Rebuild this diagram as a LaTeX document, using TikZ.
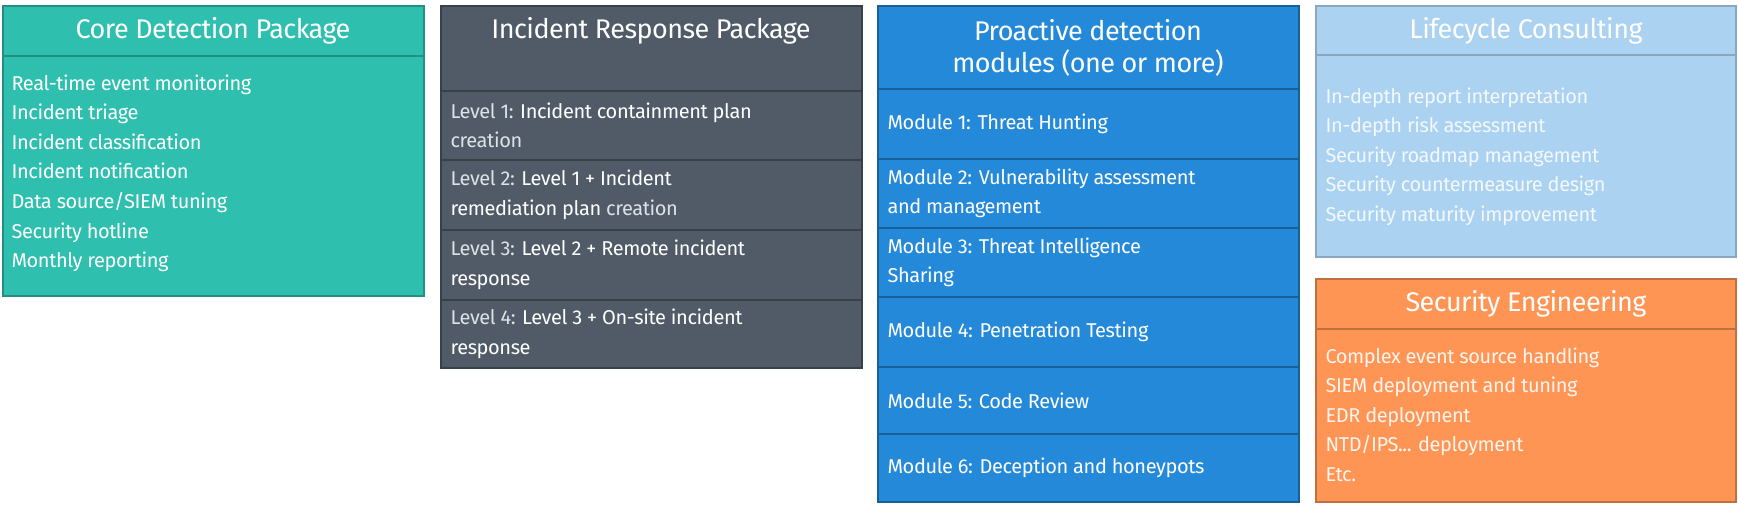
\documentclass[tikz,border=0pt]{standalone}
\usepackage{fontspec}
\setmainfont{Fira Sans}
\definecolor{cteal}{HTML}{2EBFAF}
\definecolor{cslate}{HTML}{505B67}
\definecolor{cblue}{HTML}{2489D8}
\definecolor{clight}{HTML}{ABD2F0}
\definecolor{corange}{HTML}{FE9555}
\begin{document}
\begin{tikzpicture}[x=1pt,y=-1pt,
  cell/.style={line width=1.5pt},
  ttl/.style={font=\fontsize{27}{32}\selectfont\addfontfeatures{LetterSpace=-2}, text=white, align=center},
  txt/.style={font=\fontsize{20}{29.6}\selectfont\addfontfeatures{LetterSpace=-2}, text=white, align=left, anchor=west},
  lt/.style={text opacity=0.8}]
\useasboundingbox (0,0) rectangle (1738,507);
% Box 1
\filldraw[cell,fill=cteal,draw=cteal!75!black] (3,6) rectangle (424,296);
\draw[cell,draw=cteal!75!black] (3,56) -- (424,56);
\node[ttl] (t1) at (213,31) {Core Detection Package};
\node[txt, anchor=north west] (b1) at (8,71) {Real-time event monitoring\\Incident triage\\Incident classification\\Incident notification\\Data source/SIEM tuning\\Security hotline\\Monthly reporting};
% Box 2
\filldraw[cell,fill=cslate,draw=cslate!70!black] (441,6) rectangle (862,368);
\foreach \y in {91,160,230,300} \draw[cell,draw=cslate!70!black] (441,\y) -- (862,\y);
\node[ttl] (t2) at (651,31) {Incident Response Package};
\node[txt] (l1) at (447,125.5) {{\addfontfeatures{Color=DDE2E6}Level 1:} Incident containment plan\\{\addfontfeatures{Color=DDE2E6}creation}};
\node[txt] (l2) at (447,195) {{\addfontfeatures{Color=DDE2E6}Level 2:} Level 1 + Incident\\remediation plan {\addfontfeatures{Color=DDE2E6}creation}};
\node[txt] (l3) at (447,265) {{\addfontfeatures{Color=DDE2E6}Level 3:} Level 2 + Remote incident\\response};
\node[txt] (l4) at (447,334) {{\addfontfeatures{Color=DDE2E6}Level 4:} Level 3 + On-site incident\\response};
% Box 3
\filldraw[cell,fill=cblue,draw=cblue!70!black] (878,6) rectangle (1299,502);
\foreach \y in {89,159,228,297,367,434} \draw[cell,draw=cblue!70!black] (878,\y) -- (1299,\y);
\node[ttl] (t3) at (1088,48) {Proactive detection\\modules (one or more)};
\node[txt] (m1) at (884,124) {Module 1: Threat Hunting};
\node[txt] (m2) at (884,193.5) {Module 2: Vulnerability assessment\\and management};
\node[txt] (m3) at (884,262.5) {Module 3: Threat Intelligence\\Sharing};
\node[txt] (m4) at (884,332) {Module 4: Penetration Testing};
\node[txt] (m5) at (884,400.5) {Module 5: Code Review};
\node[txt] (m6) at (884,468) {Module 6: Deception and honeypots};
% Box 4
\filldraw[cell,fill=clight,draw=clight!80!black] (1316,6) rectangle (1736,257);
\draw[cell,draw=clight!80!black] (1316,55) -- (1736,55);
\node[ttl] (t4) at (1526,31) {Lifecycle Consulting};
\node[txt, anchor=north west, text=white!85!clight] (b4) at (1322,84) {In-depth report interpretation\\In-depth risk assessment\\Security roadmap management\\Security countermeasure design\\Security maturity improvement};
% Box 5
\filldraw[cell,fill=corange,draw=corange!75!black] (1316,279) rectangle (1736,502);
\draw[cell,draw=corange!75!black] (1316,329) -- (1736,329);
\node[ttl] (t5) at (1526,304) {Security Engineering};
\node[txt, anchor=north west, text=white!90!corange] (b5) at (1322,344) {Complex event source handling\\SIEM deployment and tuning\\EDR deployment\\NTD/IPS... deployment\\Etc.};
\end{tikzpicture}
\end{document}
